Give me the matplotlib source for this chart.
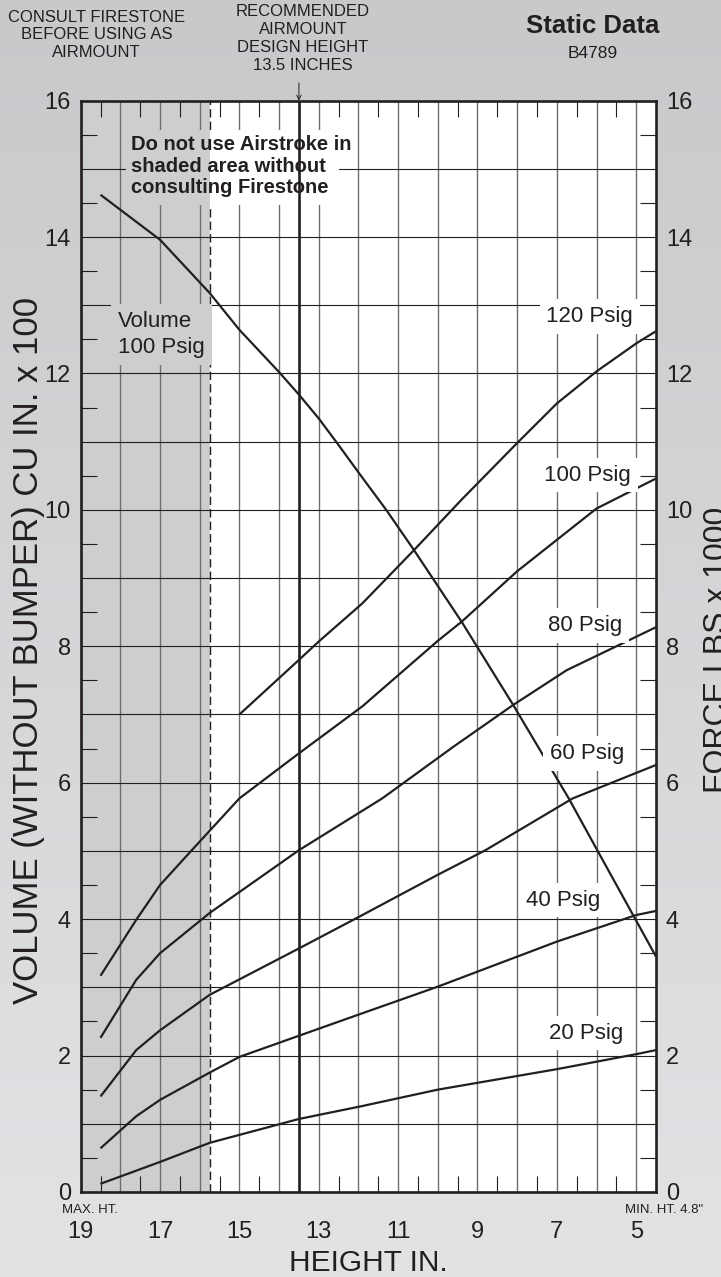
import numpy as np
import matplotlib
matplotlib.use("Agg")
from matplotlib import pyplot as plt
from matplotlib.patches import Rectangle
from matplotlib.ticker import FixedLocator, FuncFormatter

# volume at 100 psig (cu in x 100) against height (in)
vol_height = [18.5, 17.0, 15.75, 15.0, 14.0, 13.5, 13.0, 12.5, 12.0, 11.3, 10.6, 9.4, 8.1, 6.7, 6.0, 4.5]
vol_100 = [14.62, 13.96, 13.18, 12.64, 12.02, 11.69, 11.34, 10.95, 10.55, 10.0, 9.41, 8.36, 7.14, 5.77, 5.03, 3.45]

# force (lbs x 1000) against height for each pressure
h120 = [15.0, 13.5, 13.0, 11.9, 10.6, 9.4, 8.0, 7.0, 6.0, 5.0, 4.5]
f120 = [7.0, 7.8, 8.07, 8.63, 9.41, 10.15, 10.98, 11.56, 12.03, 12.44, 12.62]
h100 = [18.5, 17.6, 17.0, 16.2, 15.0, 13.5, 11.9, 10.0, 9.4, 8.0, 7.0, 6.0, 4.5]
f100 = [3.17, 3.99, 4.5, 5.01, 5.77, 6.43, 7.12, 8.08, 8.36, 9.1, 9.56, 10.02, 10.46]
h80 = [18.5, 17.6, 17.0, 15.75, 13.5, 11.4, 9.6, 8.1, 6.75, 4.5]
f80 = [2.26, 3.11, 3.5, 4.09, 5.01, 5.77, 6.53, 7.14, 7.65, 8.28]
h60 = [18.5, 17.6, 17.0, 15.75, 13.5, 11.9, 10.0, 8.8, 6.6, 4.5]
f60 = [1.40, 2.08, 2.37, 2.89, 3.57, 4.06, 4.65, 5.01, 5.77, 6.26]
h40 = [18.5, 17.6, 17.0, 15.75, 15.0, 13.5, 11.9, 10.0, 8.0, 7.0, 5.0, 4.5]
f40 = [0.64, 1.11, 1.35, 1.75, 1.98, 2.29, 2.62, 3.01, 3.45, 3.67, 4.06, 4.12]
h20 = [18.5, 17.0, 15.75, 13.5, 11.9, 10.0, 8.0, 7.0, 5.0, 4.5]
f20 = [0.12, 0.44, 0.72, 1.07, 1.26, 1.50, 1.70, 1.80, 2.02, 2.08]

force_curves = [(h120, f120), (h100, f100), (h80, f80), (h60, f60), (h40, f40), (h20, f20)]
psig_labels = ["120 Psig", "100 Psig", "80 Psig", "60 Psig", "40 Psig", "20 Psig"]
label_pos = [(6.17, 12.83), (6.23, 10.51), (6.28, 8.31), (6.23, 6.43), (6.85, 4.28), (6.26, 2.33)]

design_height = 13.5
shade_edge = 15.75
x_min, x_max = 19.0, 4.5

font = ["Liberation Sans Narrow", "Liberation Sans", "DejaVu Sans"]
ink = "#231f20"
shade = "#cdced0"

fig = plt.figure(figsize=(7.21, 12.77), dpi=100)

# grey background, a little darker at the top
bg = fig.add_axes([0, 0, 1, 1], zorder=-10)
t = np.linspace(0, 1, 256)[:, None, None]
top_c = np.array([0.784, 0.788, 0.796])
bot_c = np.array([0.886, 0.890, 0.898])
bg.imshow(top_c + (bot_c - top_c) * t * np.ones((1, 2, 3)), aspect="auto", extent=[0, 1, 0, 1])
bg.axis("off")

ax = fig.add_axes([0.1119, 0.0666, 0.798, 0.8546])
ax.set_facecolor("white")
ax.set_xlim(x_min, x_max)
ax.set_ylim(0, 16)

ax.axvspan(x_min, shade_edge, color=shade, zorder=0.2, lw=0)

ax.xaxis.set_major_locator(FixedLocator(np.arange(5, 20)))
ax.xaxis.set_minor_locator(FixedLocator(np.arange(5.5, 19, 1)))
ax.yaxis.set_major_locator(FixedLocator(np.arange(0, 17)))
ax.yaxis.set_minor_locator(FixedLocator(np.arange(0.5, 16, 1)))
ax.xaxis.set_major_formatter(FuncFormatter(lambda v, p: "%d" % v if int(v) % 2 == 1 else ""))
ax.yaxis.set_major_formatter(FuncFormatter(lambda v, p: "%d" % v if int(v) % 2 == 0 else ""))

ax.set_axisbelow(True)
ax.xaxis.grid(True, which="major", color="#6d6e70", lw=1.0)
ax.yaxis.grid(True, which="major", color=ink, lw=0.8)

ax.tick_params(which="major", length=0, labelsize=17, colors=ink)
ax.tick_params(axis="y", which="major", pad=7, left=True, right=True, labelleft=True, labelright=True)
ax.tick_params(axis="x", which="major", pad=21)
ax.tick_params(which="minor", direction="in", length=11.5, width=0.8, color=ink,
               top=True, bottom=True, left=True, right=True)
for lab in ax.get_xticklabels() + ax.get_yticklabels():
    lab.set_family(font)

for s in ax.spines.values():
    s.set_linewidth(1.9)
    s.set_color(ink)
    s.set_zorder(6)

# design height and shaded-area boundary
ax.axvline(design_height, color=ink, lw=1.9, zorder=2)
ax.axvline(shade_edge, color=ink, lw=1.0, ls=(0, (6, 3)), zorder=1.2)

# curves
ax.plot(vol_height, vol_100, color=ink, lw=1.6, zorder=3, solid_capstyle="butt")
for h, f in force_curves:
    ax.plot(h, f, color=ink, lw=1.6, zorder=3, solid_capstyle="butt")

for lab, (lx, ly) in zip(psig_labels, label_pos):
    ax.text(lx, ly, lab, ha="center", va="center", fontsize=16, family=font, color=ink, zorder=5,
            bbox=dict(facecolor="white", edgecolor="none", pad=5))

ax.text(18.05, 12.57, "Volume\n100 Psig", ha="left", va="center", fontsize=16, family=font,
        color=ink, linespacing=1.3, zorder=5, bbox=dict(facecolor=shade, edgecolor="none", pad=5))

# warning box knocks out the grid behind it
ax.add_patch(Rectangle((shade_edge, 14.47), 17.85 - shade_edge, 1.1, facecolor=shade, edgecolor="none", zorder=1.5))
ax.add_patch(Rectangle((12.5, 14.47), shade_edge - 12.5, 1.1, facecolor="white", edgecolor="none", zorder=1.5))
ax.text(17.72, 15.04, "Do not use Airstroke in\nshaded area without\nconsulting Firestone",
        ha="left", va="center", fontsize=14.5, fontweight="bold", family=font, color=ink,
        linespacing=1.15, zorder=5)

# axis titles
fig.text(0.5104, 0.0045, "HEIGHT IN.", ha="center", va="baseline", fontsize=21.5, family=font, color=ink)
fig.text(0.040, 0.491, "VOLUME (WITHOUT BUMPER) CU IN. x 100", rotation=90, ha="center", va="center",
         fontsize=25, family=font, color=ink)
fig.text(0.9955, 0.491, "FORCE LBS x 1000", rotation=90, ha="center", va="center",
         fontsize=23, family=font, color=ink)

fig.text(0.086, 0.0525, "MAX. HT.", ha="left", va="center", fontsize=9.5, family=font, color=ink)
fig.text(0.975, 0.0525, 'MIN. HT. 4.8"', ha="right", va="center", fontsize=9.5, family=font, color=ink)

# header notes
fig.text(0.134, 0.9726, "CONSULT FIRESTONE\nBEFORE USING AS\nAIRMOUNT", ha="center", va="center",
         fontsize=12, family=font, color=ink, linespacing=1.2)
fig.text(0.42, 0.9695, "RECOMMENDED\nAIRMOUNT\nDESIGN HEIGHT\n13.5 INCHES", ha="center", va="center",
         fontsize=12, family=font, color=ink, linespacing=1.25)
ax.annotate("", xy=(design_height, 16), xycoords="data", xytext=(design_height, 16.26),
            textcoords="data", annotation_clip=False,
            arrowprops=dict(arrowstyle="->", color=ink, lw=0.7, shrinkA=0, shrinkB=0, mutation_scale=8))
fig.text(0.822, 0.980, "Static Data", ha="center", va="center", fontsize=18.5, fontweight="bold",
         family=font, color=ink)
fig.text(0.822, 0.958, "B4789", ha="center", va="center", fontsize=12.5, family=font, color=ink)

fig.savefig("out.png", dpi=100)
